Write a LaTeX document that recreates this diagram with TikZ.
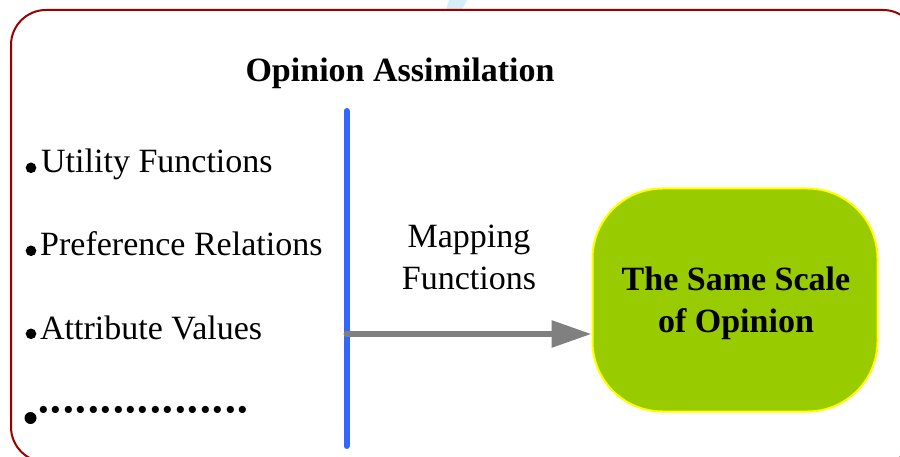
\documentclass[tikz,border=0pt]{standalone}
\usepackage{fontspec}
\setmainfont{Liberation Serif}
\usetikzlibrary{arrows.meta}
\definecolor{framered}{RGB}{153,0,0}
\definecolor{lineblue}{RGB}{51,102,255}
\definecolor{boxgreen}{RGB}{153,204,0}
\definecolor{boxyellow}{RGB}{255,255,0}
\definecolor{arrowgrey}{RGB}{128,128,128}
\definecolor{faintblue}{RGB}{214,238,250}
\newcommand{\pdot}{\makebox[12.5pt][c]{·}}
\tikzset{
  itemtext/.style={anchor=base west, inner sep=0pt, font=\fontsize{34}{40}\selectfont},
  titletext/.style={anchor=base, inner sep=0pt, font=\fontsize{34}{40}\selectfont\bfseries},
  maptext/.style={anchor=base, inner sep=0pt, align=center, font=\fontsize{34}{42}\selectfont},
  scalebox/.style={draw=boxyellow, line width=2pt, fill=boxgreen, rounded corners=70pt,
    minimum width=285pt, minimum height=223pt, inner sep=0pt},
  scaletext/.style={anchor=base, inner sep=0pt, align=center,
    font=\fontsize{34}{42}\selectfont\bfseries},
  bulletdot/.style={fill=black},
}
\begin{document}
\begin{tikzpicture}[x=1pt,y=-1pt]
\useasboundingbox (0,0) rectangle (900,457);
% faint artifact at top
\fill[faintblue] (449,0) -- (467,0) -- (462,10) -- (446,10) -- cycle;
% outer frame
\draw[framered, line width=2pt, rounded corners=35pt] (11,10) rectangle (918,462);
% title
\node[titletext] (title) at (400,82) {Opinion Assimilation};
% items
\fill[bulletdot] (31,167.8) circle (5.3);
\node[itemtext] (util) at (41,173) {Utility Functions};
\fill[bulletdot] (31,250.8) circle (5.3);
\node[itemtext] (pref) at (40,256) {Preference Relations};
\fill[bulletdot] (31,333.8) circle (5.3);
\node[itemtext] (attr) at (40,339) {Attribute Values};
\fill[bulletdot] (30.5,418) circle (6);
\node[itemtext, font=\fontsize{44}{48}\selectfont\bfseries] (dots) at (37,424)
  {\pdot\pdot\pdot\pdot\pdot\pdot\pdot\pdot\pdot\pdot\pdot\pdot\pdot\pdot\pdot\pdot\pdot};
% blue divider
\coordinate (vtop) at (346.5,111);
\coordinate (vbot) at (346.5,446);
\draw[lineblue, line width=6pt, line cap=round] (vtop) -- (vbot);
% mapping text
\node[maptext] (map) at (469,290) {Mapping\\Functions};
% target box
\node[scalebox] (scale) at (735,300) {};
\node[scaletext] (scalelabel) at (736,332) {The Same Scale\\of Opinion};
% arrow
\coordinate (astart) at (346.5,334);
\draw[arrowgrey, line width=6pt, line cap=round,
  -{Triangle[length=40pt,width=26pt,line cap=butt]}] (astart) -- (astart -| scale.west);
\end{tikzpicture}
\end{document}
